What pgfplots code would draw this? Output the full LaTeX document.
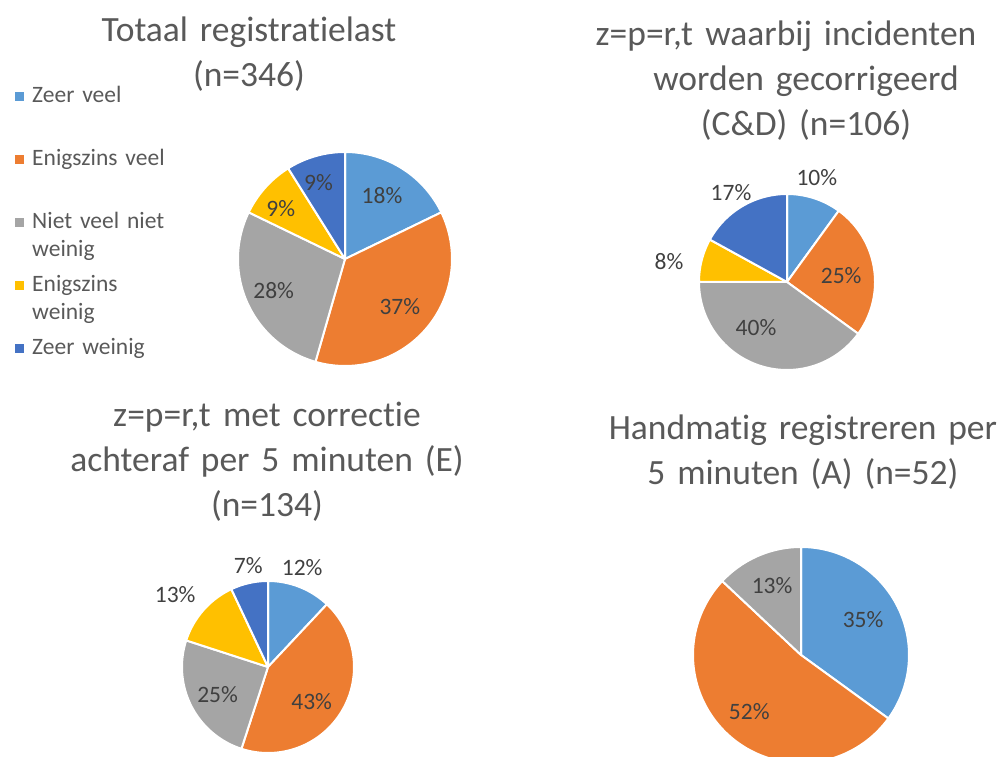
\documentclass[border=0pt]{standalone}
\usepackage{pgfplots}
\pgfplotsset{compat=1.18}
\usepackage{pgfplotstable}
\usepackage{fontspec}
\setmainfont{Carlito}[Ligatures=NoCommon]
\definecolor{pc0}{HTML}{5B9BD5}
\definecolor{pc1}{HTML}{ED7D31}
\definecolor{pc2}{HTML}{A5A5A5}
\definecolor{pc3}{HTML}{FFC000}
\definecolor{pc4}{HTML}{4472C4}
\definecolor{titlegray}{HTML}{595959}
\definecolor{labgray}{HTML}{404040}
\newcommand\labfont{\fontsize{23.5}{28}\selectfont}
\newcommand\titlefont{\fontsize{35.5}{45}\selectfont}

% val = percentage, lr = label radius (fraction of pie radius), da = label angle shift
\pgfplotstableread{
val lr da
18 0.69 2
37 0.68 -1
28 0.73 0
9 0.76 4
9 0.76 3
}\pieA
\pgfplotstableread{
val lr da
10 1.23 2
25 0.62 -2
40 0.63 -16
8 1.36 4.8
17 1.20 1.4
}\pieB
\pgfplotstableread{
val lr da
12 1.22 2.6
43 0.65 -8
25 0.67 2
13 1.37 3.4
7 1.20 -1.6
}\pieC
\pgfplotstableread{
val lr da
35 0.66 2.4
52 0.71 -2.8
13 0.70 -0.9
}\pieD

\newcommand\drawpie[1]{%
  \pgfplotstablegetrowsof{#1}%
  \pgfmathtruncatemacro\lastrow{\pgfplotsretval-1}%
  \def\pietot{0}%
  \pgfplotsforeachungrouped \i in {0,...,\lastrow}{%
    \pgfplotstablegetelem{\i}{val}\of{#1}%
    \pgfmathsetmacro\pietot{\pietot+\pgfplotsretval}%
  }%
  \def\piecum{0}%
  \pgfplotsforeachungrouped \i in {0,...,\lastrow}{%
    \pgfplotstablegetelem{\i}{val}\of{#1}\let\pv\pgfplotsretval
    \pgfplotstablegetelem{\i}{lr}\of{#1}\let\plr\pgfplotsretval
    \pgfplotstablegetelem{\i}{da}\of{#1}\let\pda\pgfplotsretval
    \pgfmathsetmacro\aS{90-\piecum/\pietot*360}%
    \pgfmathsetmacro\piecum{\piecum+\pv}%
    \pgfmathsetmacro\aE{90-\piecum/\pietot*360}%
    \pgfmathsetmacro\aM{(\aS+\aE)/2+\pda}%
    \pgfmathsetmacro\lx{\plr*cos(\aM)}%
    \pgfmathsetmacro\ly{\plr*sin(\aM)}%
    \edef\temp{\noexpand\addplot[draw=white, line width=2pt, line join=round, fill=pc\i, domain=\aE:\aS, samples=90] ({cos(x)},{sin(x)}) -- (axis cs:0,0) -- cycle;
      \noexpand\node[font=\noexpand\labfont, text=labgray] at (axis cs:\lx,\ly) {\pv\noexpand\%};}%
    \temp
  }%
}

\pgfplotsset{pieaxis/.style={hide axis, clip=false, xmin=-1, xmax=1, ymin=-1, ymax=1,
  scale only axis, anchor=center,
  title style={font=\titlefont, text=titlegray, text width=440pt, align=center, inner sep=0pt, anchor=base}}}

\begin{document}
\begin{tikzpicture}
\path[use as bounding box] (0,0) rectangle (1007pt,757pt);
% Pie 1
\begin{axis}[pieaxis, x=107pt, y=107pt, at={(345pt,498pt)},
  title={Totaal registratielast\\(n=346)},
  title style={at={(axis description cs:0.0514,1.486)}},
  legend image code/.code={\fill[#1,draw=none] (0pt,1.5pt) rectangle (9pt,10.5pt);},
  legend style={at={(axis description cs:-1.042,1.3227)}, anchor=north west, draw=none, fill=none,
    inner sep=0pt, row sep=7pt, column sep=0pt, font=\labfont, text=titlegray,
    cells={anchor=base west},
    nodes={inner xsep=8pt, inner ysep=0pt, text depth=, text width=170pt, align=left}}]
\drawpie{\pieA}
\legend{{\strut Zeer veel\\\strut}, {\strut Enigszins veel\\\strut}, {\strut Niet veel niet\\\strut weinig}, {\strut Enigszins\\\strut weinig}, {\strut Zeer weinig\\\strut}}
\end{axis}
% Pie 2
\begin{axis}[pieaxis, x=88pt, y=88pt, at={(787pt,475pt)},
  title={z=p=r,t\hspace{0.35em}waarbij incidenten\rule{40pt}{0pt}\\worden gecorrigeerd\\(C\&D) (n=106)},
  title style={at={(axis description cs:0.608,1.812)}}]
\drawpie{\pieB}
\end{axis}
% Pie 3
\begin{axis}[pieaxis, x=86pt, y=86pt, at={(268pt,90pt)},
  title={z=p=r,t\hspace{0.35em}met correctie\\achteraf per 5 minuten (E)\\(n=134)},
  title style={at={(axis description cs:0.494,1.866)}}]
\drawpie{\pieC}
\end{axis}
% Pie 4
\begin{axis}[pieaxis, x=108pt, y=108pt, at={(801pt,102pt)},
  title={Handmatig registreren per\\5 minuten (A) (n=52)},
  title style={at={(axis description cs:0.509,1.472)}}]
\drawpie{\pieD}
\end{axis}
\end{tikzpicture}
\end{document}
